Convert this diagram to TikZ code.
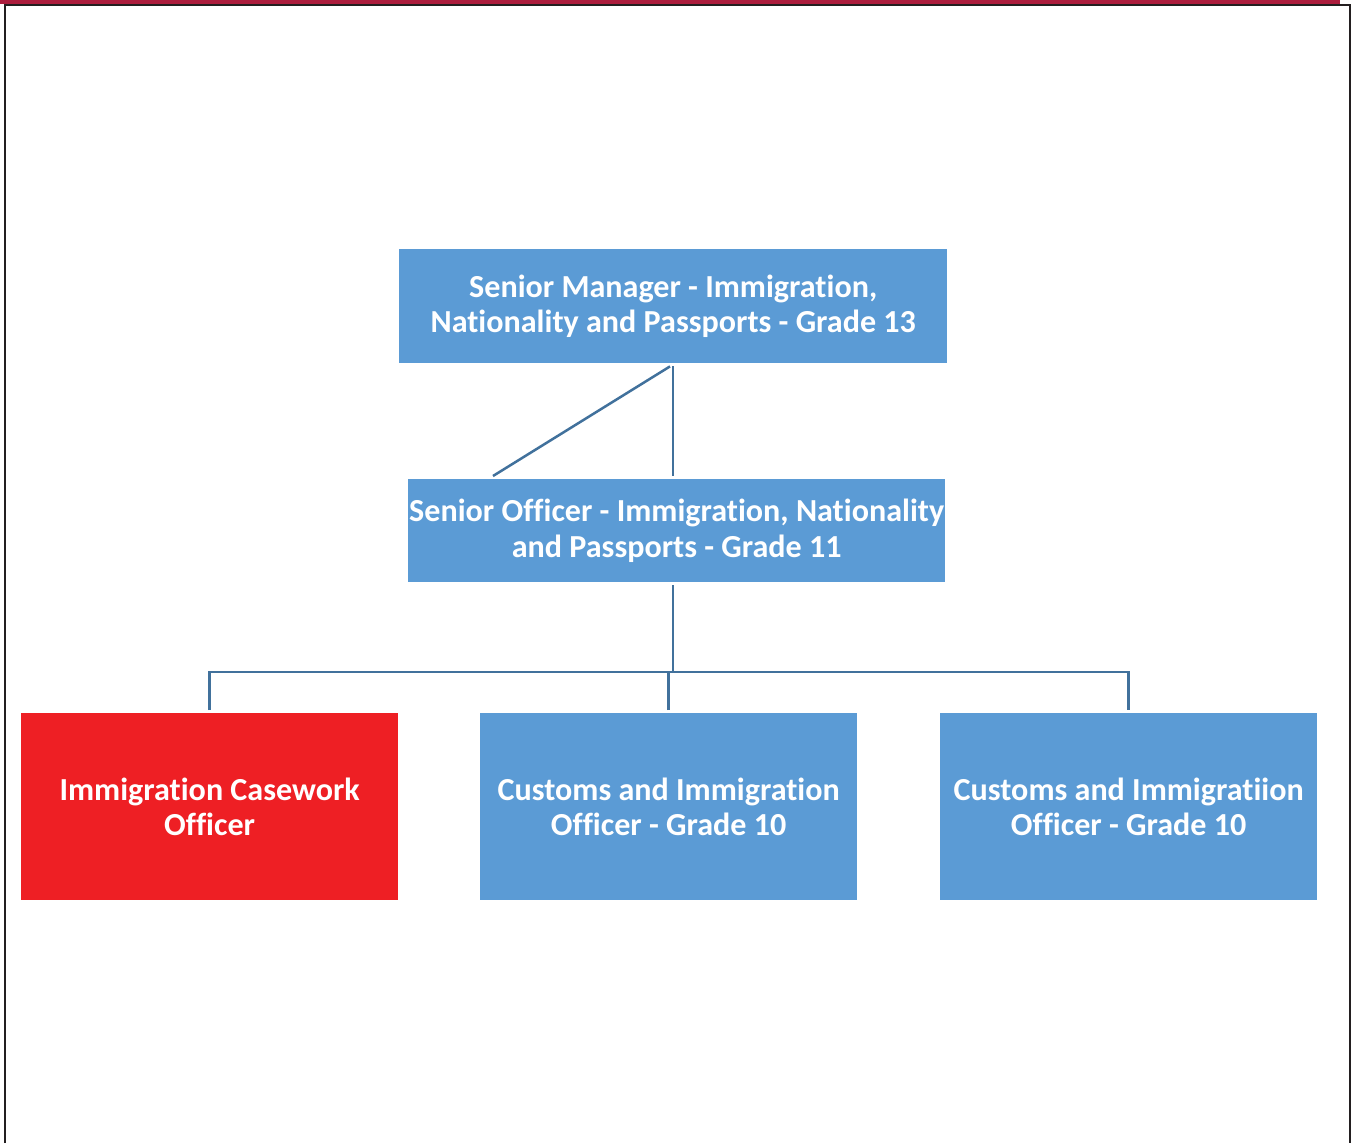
\documentclass[tikz,border=0pt]{standalone}
\usepackage{fontspec}
\setmainfont{Carlito}[Ligatures=NoCommon]
\definecolor{boxblue}{HTML}{5B9BD5}
\definecolor{boxred}{HTML}{EE1F24}
\definecolor{linkblue}{HTML}{41719C}
\definecolor{bandred}{HTML}{AC1D3D}
\definecolor{framegray}{HTML}{231F20}
\begin{document}
\begin{tikzpicture}[x=1pt,y=-1pt,
  role/.style={draw=none,fill=boxblue,text=white,font=\bfseries\fontsize{32.1}{35.5}\selectfont,align=center,inner sep=0pt,anchor=north west},
  link/.style={draw=linkblue,line width=2.5pt}]
\useasboundingbox (0,0) rectangle (1357,1143);
\fill[white] (0,0) rectangle (1357,1143);
\fill[bandred] (0,0) rectangle (1340,4);
\draw[framegray,line width=2pt] (5,1143) -- (5,5) -- (1350,5) -- (1350,1143);
\node[role,minimum width=548pt,minimum height=114pt] (sm) at (399,249) {Senior Manager - Immigration,\\Nationality and Passports - Grade 13};
\node[role,minimum width=537pt,minimum height=103pt] (so) at (408,479) {Senior Officer - Immigration, Nationality\\and Passports - Grade 11};
\node[role,fill=boxred,minimum width=377pt,minimum height=187pt] (ico) at (21,713) {Immigration Casework\\Officer};
\node[role,minimum width=377pt,minimum height=187pt] (cio1) at (480,713) {Customs and Immigration\\Officer - Grade 10};
\node[role,minimum width=377pt,minimum height=187pt] (cio2) at (940,713) {Customs and Immigratiion\\Officer - Grade 10};
\coordinate (bus) at (673,672);
\coordinate (smb) at ([yshift=-3pt]sm.south -| bus);
\coordinate (smd) at ([yshift=-3pt,xshift=-3pt]sm.south -| bus);
\coordinate (sot) at ([yshift=3pt]so.north -| bus);
\coordinate (sol) at (493,476);
\coordinate (sob) at ([yshift=-3pt]so.south -| bus);
\draw[link] (smb) -- (sot);
\draw[link] (smd) -- (sol);
\draw[link] (sob) -- (bus);
\draw[link] ([yshift=3pt]ico.north) |- (bus) -| ([yshift=3pt]cio2.north);
\draw[link] ([yshift=3pt]cio1.north) -- (cio1.north |- bus);
\end{tikzpicture}
\end{document}
